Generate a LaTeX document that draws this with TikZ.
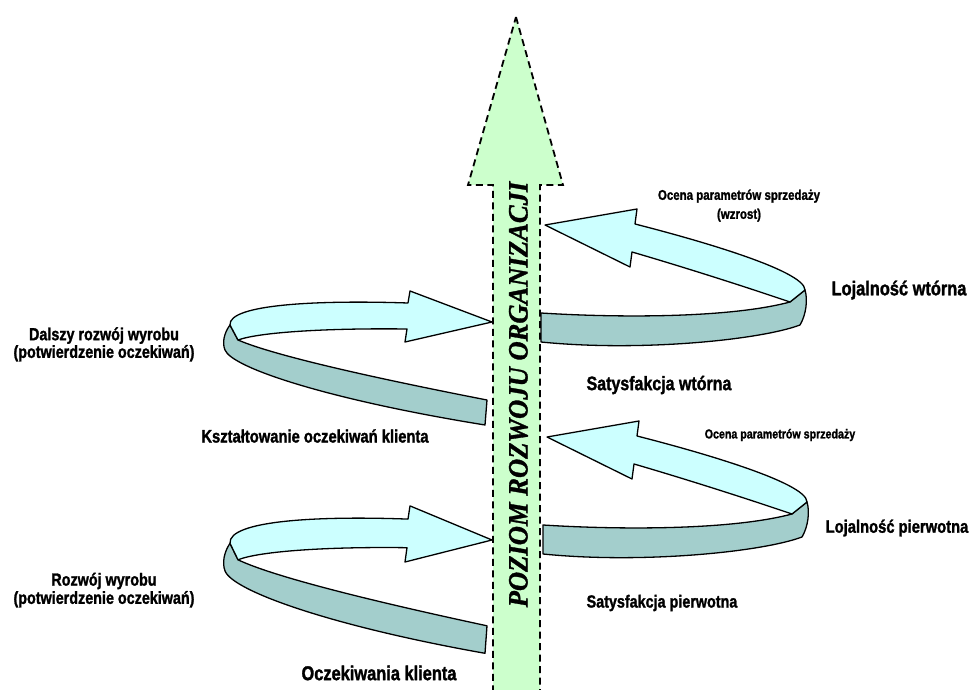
\documentclass[tikz,border=0pt]{standalone}
\usepackage{fontspec}
\setmainfont{Liberation Sans}[BoldFeatures={FakeBold=1.6}]
\newfontfamily\titlefont{Liberation Serif}[BoldItalicFeatures={FakeBold=1.2}]
\usepackage{graphicx}
\definecolor{ribbonlight}{HTML}{CCFFFF}
\definecolor{ribbondark}{RGB}{163,206,204}
\definecolor{shaftgreen}{HTML}{CCFFCC}
\tikzset{
  ribbonedge/.style={draw=black, line width=1.3pt, line join=round},
  lightband/.style={ribbonedge, fill=ribbonlight},
  darkband/.style={ribbonedge, fill=ribbondark},
  mainarrow/.style={draw=black, fill=shaftgreen, line width=1.8pt, dash pattern=on 7pt off 4.5pt},
  lbl/.style={inner sep=0pt, text=black},
}
\newcommand{\narrowtxt}[1]{\scalebox{0.82}[1]{#1}}
\newcommand{\twoline}[2]{\narrowtxt{\begin{tabular}{@{}c@{}}#1\\#2\end{tabular}}}
\newcommand{\leftribbon}{%
  \draw[darkband] (-262,3) .. controls (-268,11) and (-270,21) .. (-267,28)
    .. controls (-260,46) and (-162,78) .. (-7,103) -- (-5,78)
    .. controls (-92,61) and (-212,36) .. (-254,18) -- cycle;
  \draw[lightband] (0,0) -- (-82,-31) -- (-84,-19)
    .. controls (-172,-22) and (-264,-18) .. (-262,3) -- (-254,18)
    .. controls (-232,10) and (-162,6) .. (-85,7) -- (-87,20) -- cycle;
}
\newcommand{\rightribbon}{%
  \draw[darkband] (-4,88) .. controls (75,93) and (185,93) .. (245,77) -- (260,65)
    .. controls (263,75) and (261,90) .. (255,100)
    .. controls (215,115) and (95,127) .. (-4,117) -- cycle;
  \draw[lightband] (0,0) -- (92,-16) -- (90,-1)
    .. controls (145,13) and (260,45) .. (260,65) -- (245,77)
    .. controls (195,60) and (135,41) .. (87,27) -- (85,42) -- cycle;
}
\begin{document}
\begin{tikzpicture}[x=1pt,y=-1pt]
\useasboundingbox (0,0) rectangle (970,690);
% main vertical arrow
\draw[mainarrow] (516,17) -- (563,185) -- (540,185) -- (540,696) -- (493,696) -- (493,185) -- (468,185) -- cycle;
\node[rotate=90, anchor=base, inner sep=0pt, font={\titlefont\bfseries\itshape\fontsize{28}{30}\selectfont}] (title) at (527.5,394.5) {\scalebox{0.95}[1]{POZIOM ROZWOJU ORGANIZACJI}};
% ribbons
\begin{scope}[shift={(492,322)}] \leftribbon \end{scope}
\begin{scope}[shift={(492,540)}, yscale=1.1] \leftribbon \end{scope}
\begin{scope}[shift={(545,225)}] \rightribbon \end{scope}
\begin{scope}[shift={(547,437)}] \rightribbon \end{scope}
% labels
\node[lbl, font={\bfseries\fontsize{14}{19}\selectfont}] (ocena1) at (739,205.5) {\twoline{Ocena parametrów sprzedaży}{(wzrost)}};
\node[lbl, font={\bfseries\fontsize{20}{22}\selectfont}] (loj2) at (899,290) {\narrowtxt{Lojalność wtórna}};
\node[lbl, font={\bfseries\fontsize{19.5}{20}\selectfont}] (sat2) at (659,385) {\narrowtxt{Satysfakcja wtórna}};
\node[lbl, font={\bfseries\fontsize{17.5}{16}\selectfont}] (dalszy) at (104,345) {\twoline{Dalszy rozwój wyrobu}{(potwierdzenie oczekiwań)}};
\node[lbl, font={\bfseries\fontsize{18}{20}\selectfont}] (ksztalt) at (315,436) {\narrowtxt{Kształtowanie oczekiwań klienta}};
\node[lbl, font={\bfseries\fontsize{13}{15}\selectfont}] (ocena2) at (780,435) {\narrowtxt{Ocena parametrów sprzedaży}};
\node[lbl, font={\bfseries\fontsize{18}{20}\selectfont}] (loj1) at (897,528) {\narrowtxt{Lojalność pierwotna}};
\node[lbl, font={\bfseries\fontsize{17.5}{20}\selectfont}] (sat1) at (662,603) {\narrowtxt{Satysfakcja pierwotna}};
\node[lbl, font={\bfseries\fontsize{17.5}{18}\selectfont}] (rozwoj) at (104,591) {\twoline{Rozwój wyrobu}{(potwierdzenie oczekiwań)}};
\node[lbl, font={\bfseries\fontsize{20}{22}\selectfont}] (oczek) at (379,673) {\narrowtxt{Oczekiwania klienta}};
\end{tikzpicture}
\end{document}
